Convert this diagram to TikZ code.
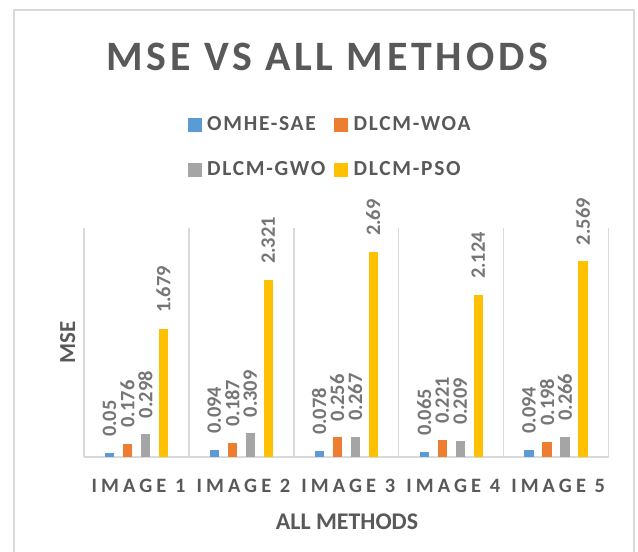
\documentclass[tikz,border=0pt]{standalone}
\usepackage{fontspec}
\setmainfont{Carlito}
\definecolor{cblue}{HTML}{5B9BD5}
\definecolor{corange}{HTML}{ED7D31}
\definecolor{cgray}{HTML}{A5A5A5}
\definecolor{cyellow}{HTML}{FFC000}
\definecolor{txtdark}{HTML}{595959}
\definecolor{txtlbl}{HTML}{767676}
\definecolor{gridc}{HTML}{D9D9D9}
\tikzset{
  framebox/.style={draw=gridc, line width=2bp},
  gridline/.style={draw=gridc, line width=1.5bp},
  titletext/.style={inner sep=0, anchor=base, text=txtdark, font=\fontsize{42}{44}\selectfont\bfseries\addfontfeature{LetterSpace=9}},
  legtext/.style={inner sep=0, anchor=base west, text=txtdark, font=\fontsize{21.5}{23}\selectfont\bfseries\addfontfeature{LetterSpace=8}},
  vallabel/.style={inner sep=0, anchor=west, rotate=90, text=txtlbl, font=\fontsize{20.5}{22}\selectfont\bfseries},
  cattext/.style={inner sep=0, anchor=base, text=txtdark, font=\fontsize{20.5}{22}\selectfont\bfseries\addfontfeature{LetterSpace=20}},
  axtext/.style={inner sep=0, anchor=base, text=txtdark, font=\fontsize{24}{26}\selectfont\bfseries},
}
\newcommand\mybarplot[4]{%
  \fill[#4] ({84+#1*104.9+20.8+18*#2},457) rectangle ++(9.3,{-#3*76.2});
  \node[vallabel] (v#1#2) at ({84+#1*104.9+20.8+18*#2+4.65},{457-#3*76.2-16}) {#3};
}
\begin{document}
\begin{tikzpicture}[x=1bp,y=-1bp]
\useasboundingbox (0,0) rectangle (638,552);
\fill[white] (0,0) rectangle (638,552);
\draw[framebox] (14,556) -- (14,10) -- (634,10) -- (634,556);
% title
\node[titletext] (title) at (327.3,71) {MSE VS ALL METHODS};
% legend
\fill[cblue] (188,118.3) rectangle (201.5,131.7);
\node[legtext] (l1) at (207,131) {OMHE-SAE};
\fill[corange] (334,118.3) rectangle (347.5,131.7);
\node[legtext] (l2) at (353.5,131) {DLCM-WOA};
\fill[cgray] (188,163.3) rectangle (201.5,176.7);
\node[legtext] (l3) at (207,176) {DLCM-GWO};
\fill[cyellow] (334,163.3) rectangle (347.5,176.7);
\node[legtext] (l4) at (353.5,176) {DLCM-PSO};
% grid
\foreach \k in {0,...,5} {
  \draw[gridline] ({84+\k*104.9},228.4) -- ({84+\k*104.9},457);
}
\draw[gridline] (84,457) -- (608.5,457);
% bars
\foreach \c/\a/\b/\d/\e in {0/0.05/0.176/0.298/1.679, 1/0.094/0.187/0.309/2.321, 2/0.078/0.256/0.267/2.69, 3/0.065/0.221/0.209/2.124, 4/0.094/0.198/0.266/2.569} {
  \mybarplot{\c}{0}{\a}{cblue}
  \mybarplot{\c}{1}{\b}{corange}
  \mybarplot{\c}{2}{\d}{cgray}
  \mybarplot{\c}{3}{\e}{cyellow}
  \pgfmathtruncatemacro\cn{\c+1}
  \node[cattext] (cat\c) at ({84+(\c+0.5)*104.9+2.1},492.3) {IMAGE \cn};
}
% axis titles
\node[axtext] (xt) at (347,529.3) {ALL METHODS};
\node[axtext, rotate=90, font=\fontsize{23}{25}\selectfont\bfseries] (yt) at (75,342.5) {MSE};
\end{tikzpicture}
\end{document}
